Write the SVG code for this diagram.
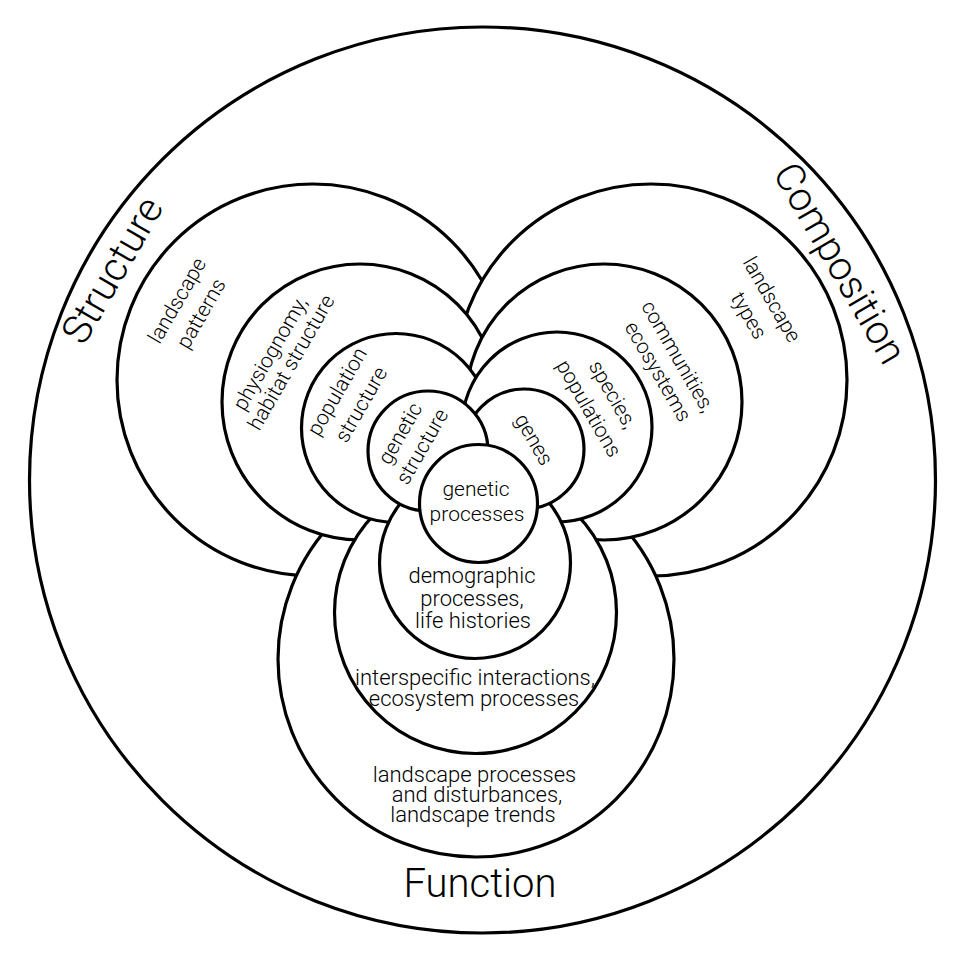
<svg xmlns="http://www.w3.org/2000/svg" width="962" height="958" viewBox="0 0 962 958">
<style>
.c{fill:#fff;stroke:#000;stroke-width:3.2}
.t{font-family:Roboto,"Liberation Sans",sans-serif;font-weight:300;font-size:21px;fill:#000;text-anchor:middle}
.f{font-size:22px}
.b{font-family:Roboto,"Liberation Sans",sans-serif;font-weight:300;font-size:40px;fill:#000;text-anchor:middle}
</style>
<rect width="962" height="958" fill="#fff"/>
<g id="outer">
<circle class="c" cx="482.5" cy="480" r="453"/>
<text class="b" transform="translate(112,270) rotate(-60)" y="14">Structure</text>
<text class="b" transform="translate(837,265) rotate(60)" y="10">Composition</text>
<text class="b" x="480" y="897">Function</text>
</g>
<g id="s1">
<circle class="c" cx="313" cy="380" r="196"/>
<text class="t" transform="translate(178,301) rotate(-60)" y="6">landscape</text>
<text class="t" transform="translate(202,314) rotate(-60)" y="6">patterns</text>
</g>
<g id="c1">
<circle class="c" cx="651" cy="380" r="196"/>
<text class="t" transform="translate(771,300) rotate(60)" y="6">landscape</text>
<text class="t" transform="translate(748,316) rotate(60)" y="6">types</text>
</g>
<g id="f1">
<circle class="c" cx="476" cy="659" r="198"/>
<text class="t f" x="474.5" y="782">landscape processes</text>
<text class="t f" x="477" y="802">and disturbances,</text>
<text class="t f" x="473" y="822">landscape trends</text>
</g>
<g id="s2">
<circle class="c" cx="360" cy="402" r="138"/>
<text class="t" transform="translate(271,354) rotate(-60)" y="6">physiognomy,</text>
<text class="t" transform="translate(292,363) rotate(-60)" y="6">habitat structure</text>
</g>
<g id="c2">
<circle class="c" cx="604" cy="402" r="138"/>
<text class="t" transform="translate(677,357) rotate(60)" y="6">communities,</text>
<text class="t" transform="translate(657,372) rotate(60)" y="6">ecosystems</text>
</g>
<g id="f2">
<circle class="c" cx="475.5" cy="612.5" r="141"/>
<text class="t f" x="475" y="685">interspecific interactions,</text>
<text class="t f" x="474" y="706">ecosystem processes</text>
</g>
<g id="s3">
<circle class="c" cx="396" cy="428" r="94.5"/>
<text class="t" transform="translate(338,392) rotate(-60)" y="6">population</text>
<text class="t" transform="translate(362,405) rotate(-60)" y="6">structure</text>
</g>
<g id="c3">
<circle class="c" cx="557" cy="427" r="95"/>
<text class="t" transform="translate(612,395) rotate(60)" y="6">species,</text>
<text class="t" transform="translate(588,409) rotate(60)" y="6">populations</text>
</g>
<g id="f3">
<circle class="c" cx="475" cy="563" r="95.5"/>
<text class="t f" x="472" y="583">demographic</text>
<text class="t f" x="472" y="606">processes,</text>
<text class="t f" x="473" y="628">life histories</text>
</g>
<g id="c4">
<circle class="c" cx="524" cy="449" r="60"/>
<text class="t" transform="translate(533,440) rotate(60)" y="6">genes</text>
</g>
<g id="s4">
<circle class="c" cx="428" cy="451" r="60"/>
<text class="t" transform="translate(401,434) rotate(-60)" y="6">genetic</text>
<text class="t" transform="translate(423,447) rotate(-60)" y="6">structure</text>
</g>
<g id="f4">
<circle class="c" cx="478.5" cy="503.5" r="59"/>
<text class="t" x="476" y="496">genetic</text>
<text class="t" x="477" y="521">processes</text>
</g>
</svg>
